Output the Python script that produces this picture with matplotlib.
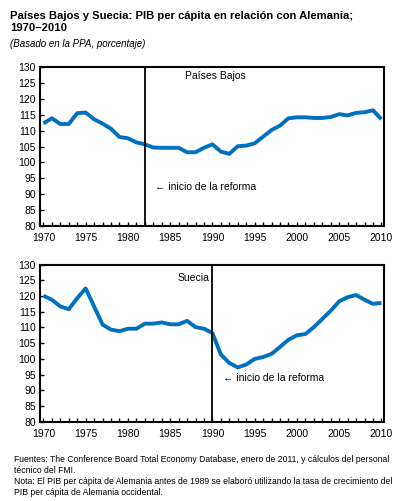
import numpy as np
import matplotlib
matplotlib.use("Agg")
import matplotlib.pyplot as plt
from matplotlib.ticker import MultipleLocator

plt.rcParams['font.family'] = ['Liberation Sans', 'DejaVu Sans']

years = np.arange(1970, 2011)

paises_bajos = [112.3, 113.9, 112.1, 112.1, 115.5, 115.7, 113.6, 112.2, 110.6, 108.0,
                107.6, 106.3, 105.7, 104.7, 104.6, 104.6, 104.6, 103.2, 103.2, 104.6,
                105.7, 103.4, 102.7, 105.1, 105.3, 106.0, 108.1, 110.2, 111.6, 113.9,
                114.2, 114.2, 114.0, 114.0, 114.3, 115.2, 114.8, 115.6, 115.8, 116.4,
                113.6]

suecia = [120.1, 118.8, 116.7, 115.8, 119.3, 122.4, 116.7, 110.9, 109.3, 108.8,
          109.6, 109.6, 111.2, 111.2, 111.6, 111.0, 111.0, 112.1, 110.1, 109.6,
          108.2, 101.4, 98.7, 97.3, 98.2, 100.0, 100.6, 101.6, 103.8, 106.1,
          107.5, 107.9, 110.1, 112.7, 115.3, 118.3, 119.6, 120.3, 118.8, 117.5,
          117.8]

blue = '#0070C0'

fig = plt.figure(figsize=(3.99, 5.01), dpi=100)

fig.text(0.025, 0.978, "Países Bajos y Suecia: PIB per cápita en relación con Alemania;\n1970–2010",
         fontsize=8.1, fontweight='bold', va='top', ha='left', linespacing=1.3)
fig.text(0.025, 0.922, "(Basado en la PPA, porcentaje)", fontsize=7, style='italic',
         va='top', ha='left')


def panel(rect, values, reform_year, label, label_xy, arrow_xy):
    ax = fig.add_axes(rect)
    ax.plot(years, values, color=blue, linewidth=2.8, solid_capstyle='butt')
    ax.axvline(reform_year, color='black', linewidth=1.3)
    ax.set_xlim(1969.6, 2010.3)
    ax.set_ylim(80, 130)
    ax.yaxis.set_major_locator(MultipleLocator(5))
    ax.xaxis.set_major_locator(MultipleLocator(5))
    ax.xaxis.set_minor_locator(MultipleLocator(1))
    ax.tick_params(axis='both', which='major', direction='in', length=3, width=1,
                   labelsize=7.5, pad=3)
    ax.tick_params(axis='x', which='minor', direction='in', length=3, width=1)
    ax.tick_params(axis='x', which='major', pad=5)
    for s in ax.spines.values():
        s.set_linewidth(1.5)
    ax.text(label_xy[0], label_xy[1], label, fontsize=7.5, ha='left', va='center')
    ax.text(arrow_xy[0], arrow_xy[1], "← inicio de la reforma", fontsize=7.5,
            ha='left', va='center')
    return ax


panel([0.1003, 0.549, 0.862, 0.317], paises_bajos, 1982, "Países Bajos",
      (1986.7, 127.3), (1983.2, 92.3))
panel([0.1003, 0.158, 0.862, 0.314], suecia, 1990, "Suecia",
      (1985.9, 125.8), (1991.3, 93.8))

fig.text(0.035, 0.092,
         "Fuentes: The Conference Board Total Economy Database, enero de 2011, y cálculos del personal\n"
         "técnico del FMI.\n"
         "Nota: El PIB per cápita de Alemania antes de 1989 se elaboró utilizando la tasa de crecimiento del\n"
         "PIB per cápita de Alemania occidental.",
         fontsize=6.2, va='top', ha='left', linespacing=1.3)

fig.savefig("out.png", dpi=100)
